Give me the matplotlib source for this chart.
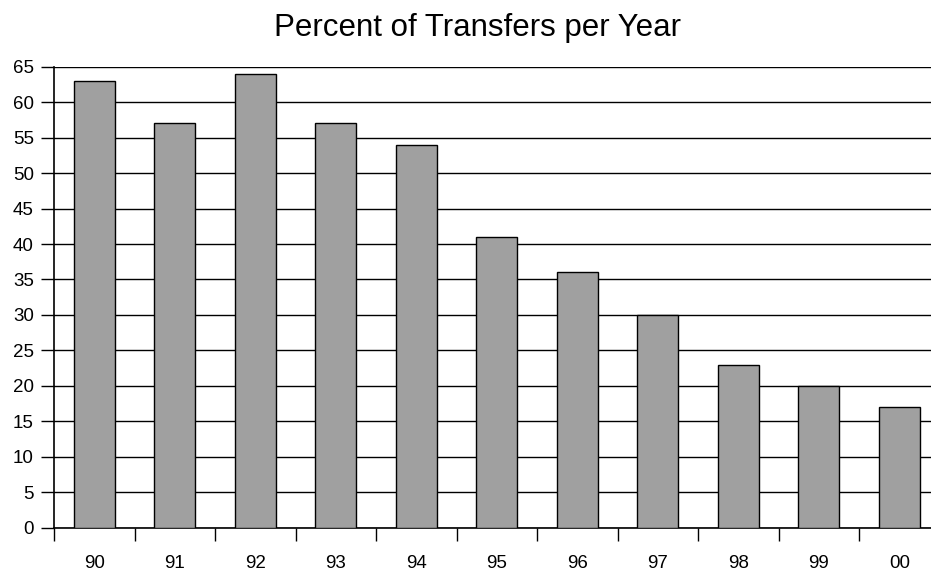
import matplotlib
matplotlib.use("Agg")
import matplotlib.pyplot as plt
import numpy as np

years = ["90", "91", "92", "93", "94", "95", "96", "97", "98", "99", "00"]
percent = [63, 57, 64, 57, 54, 41, 36, 30, 23, 20, 17]

plt.rcParams['font.family'] = ['Liberation Sans', 'DejaVu Sans']

fig = plt.figure(figsize=(9.31, 5.72), dpi=100)
ax = fig.add_axes([54/931, 1-527.7/572, (939.5-54)/931, (527.7-66.7)/572])

x = np.arange(len(years))
ax.bar(x, percent, width=0.51, color="#a0a0a0", edgecolor="black", linewidth=1.0, zorder=3)

ax.set_xlim(-0.5, len(years)-0.5)
ax.set_ylim(0, 65)
ax.set_yticks(np.arange(0, 66, 5))
ax.yaxis.grid(True, color="black", linewidth=1.0, zorder=0)
ax.set_axisbelow(True)

ax.set_xticks(x)
ax.set_xticklabels(years)
ax.set_xticks(np.arange(-0.5, len(years), 1), minor=True)
ax.tick_params(axis='x', which='major', length=0, pad=19.5, labelsize=13.5)
ax.tick_params(axis='x', which='minor', length=9, width=1, color="black", direction='out')
ax.tick_params(axis='y', length=9.5, width=1, pad=5, labelsize=13.5, direction='out')

for s in ['top', 'right']:
    ax.spines[s].set_visible(False)
ax.spines['left'].set_linewidth(1.2)
ax.spines['bottom'].set_linewidth(1.2)

fig.text(478/931, 1-36/572, "Percent of Transfers per Year", ha='center', va='baseline', fontsize=22.5)

fig.savefig("out.png", dpi=100)
